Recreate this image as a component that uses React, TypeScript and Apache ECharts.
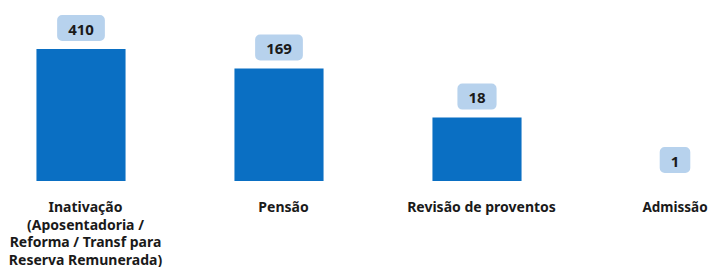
import React, { useEffect, useRef } from "react";
import * as echarts from "echarts";

const categories = [
  "Inativação\n(Aposentadoria /\nReforma / Transf para\nReserva Remunerada)",
  "Pensão",
  "Revisão de proventos",
  "Admissão",
];
const values = [410, 169, 18, 1];

export default function App() {
  const ref = useRef<HTMLDivElement>(null);
  useEffect(() => {
    if (!ref.current) return;
    const chart = echarts.init(ref.current, undefined, { renderer: "svg" });
    const lastIdx = categories.length - 1;
    chart.setOption({
      animation: false,
      grid: { left: 0, right: 0, top: 29.5, height: 151.5, containLabel: false },
      xAxis: {
        type: "category",
        data: categories.map((c, i) =>
          i === lastIdx ? { value: c, textStyle: { padding: [0, 0, 0, 0], fontSize: 13.5 } } : c
        ),
        axisLine: { show: false },
        axisTick: { show: false },
        axisLabel: {
          interval: 0,
          margin: 17,
          fontFamily: "Noto Sans",
          fontWeight: "bold",
          fontSize: 14,
          lineHeight: 17.5,
          color: "#1a1a1a",
          verticalAlign: "top",
          padding: [0, 0, 0, 9],
        },
      },
      yAxis: {
        type: "log",
        min: 1,
        max: 1000,
        show: false,
        splitLine: { show: false },
      },
      series: [
        {
          type: "bar",
          data: values,
          barWidth: "45%",
          itemStyle: { color: "#0a6fc3" },
          label: {
            show: true,
            position: "top",
            distance: 8,
            fontFamily: "Noto Sans",
            fontWeight: "bold",
            fontSize: 15,
            color: "#1a1a1a",
            backgroundColor: "#b7d2ed",
            borderRadius: 5,
            padding: [6, 11, 5, 11],
          },
        },
      ],
    });
    return () => chart.dispose();
  }, []);
  return (
    <div style={{ width: 716, height: 275, margin: -8, overflow: "hidden", position: "relative" }}>
      <div ref={ref} style={{ width: 792, height: 275, marginLeft: -18 }} />
    </div>
  );
}
